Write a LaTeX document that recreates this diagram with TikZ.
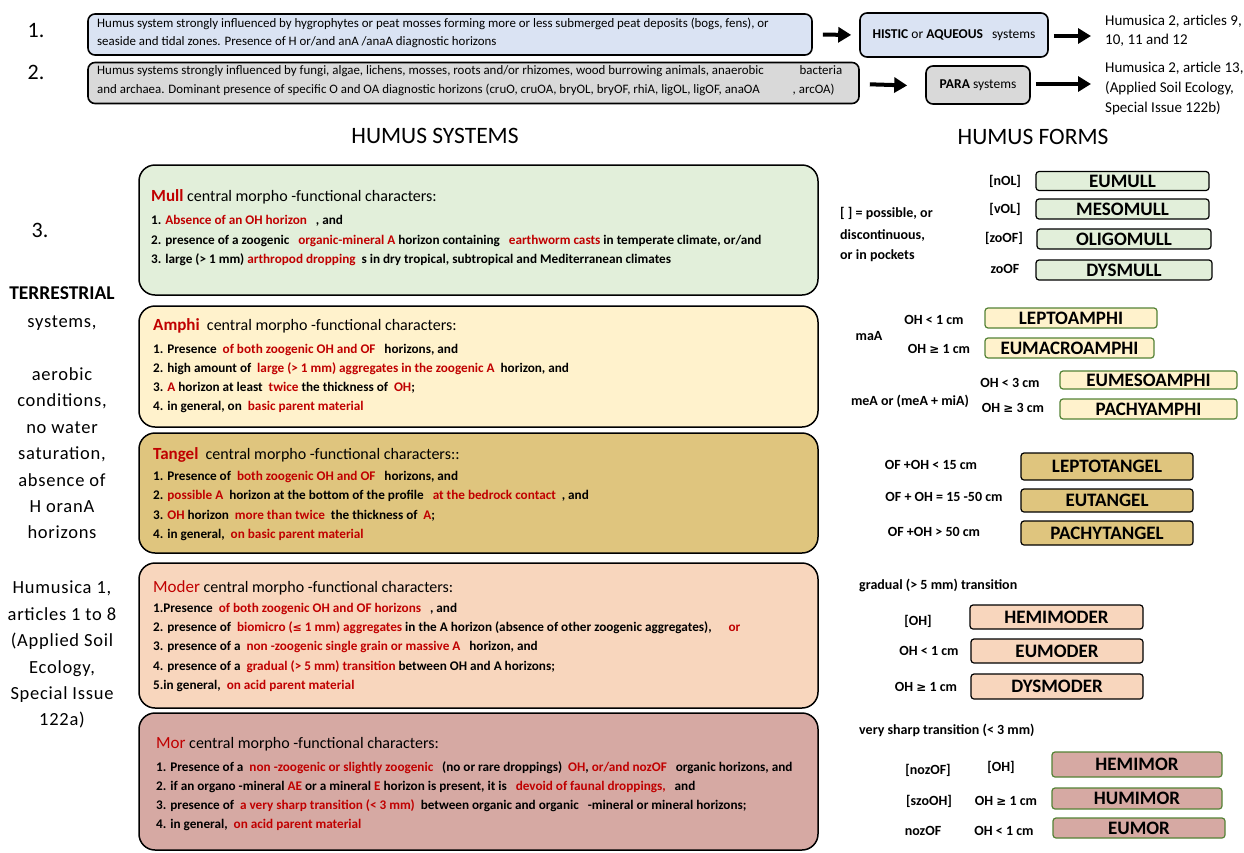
\documentclass[tikz,border=0pt]{standalone}
\usepackage{fontspec}
\setmainfont{Carlito}
\newfontfamily\symfont{DejaVu Sans}
\usetikzlibrary{arrows.meta}
\definecolor{dred}{HTML}{C00000}
\definecolor{fblue}{HTML}{DAE3F3}
\definecolor{fgray}{HTML}{D9D9D9}
\definecolor{fmull}{HTML}{E2EFDA}
\definecolor{famphi}{HTML}{FFF2CC}
\definecolor{ftangel}{HTML}{DFC57E}
\definecolor{fmoder}{HTML}{F8D6BD}
\definecolor{fmor}{HTML}{D6A9A3}
\definecolor{gborder}{HTML}{548235}
\newcommand{\rd}[1]{\textcolor{dred}{#1}}
\newcommand{\fs}[1]{\fontsize{#1}{#1}\selectfont}
\tikzset{
  ln/.style={anchor=west, inner sep=0pt, text height=0.55em, text depth=0pt},
  lc/.style={anchor=center, inner sep=0pt, text height=0.55em, text depth=0pt},
  toptxt/.style={ln, font=\fs{12.9}},
  bodytxt/.style={ln, font=\fs{13.2}\bfseries},
  titletxt/.style={ln, font=\fs{16}},
  lbl/.style={lc, font=\fs{14}\bfseries},
  lbll/.style={ln, font=\fs{14}\bfseries},
  sidetxt/.style={lc, font=\fs{18.5}\addfontfeature{LetterSpace=4}},
  topbox/.style={draw=black, line width=1.6pt, rounded corners=7pt, inner sep=0pt},
  bigbox/.style={draw=black, line width=1.5pt, rounded corners=16pt, inner sep=0pt, minimum width=679pt},
  formbox/.style={draw=black, line width=1.2pt, rounded corners=3pt, inner sep=0pt, font=\fs{19}\bfseries},
  gformbox/.style={formbox, draw=gborder},
  bigarrow/.style={line width=4pt, -{Triangle[length=13pt,width=15pt]}},
}
\begin{document}
\begin{tikzpicture}[x=1pt,y=-1pt]
\useasboundingbox (0,0) rectangle (1244,852);

% ---------- row 1 and 2 ----------
\node[lc, font=\fs{22}] (n1) at (36,35) {1.};
\node[lc, font=\fs{22}] (n2) at (36,77) {2.};

\node[topbox, fill=fblue, minimum width=724pt, minimum height=41pt] (b1) at (450,34.5) {};
\node[toptxt] (b1a) at (97,25) {Humus system strongly influenced by hygrophytes or peat mosses forming more or less submerged peat deposits (bogs, fens), or};
\node[toptxt] (b1b) at (97,43) {seaside and tidal zones. Presence of H or/and anA /anaA diagnostic horizons};

\node[topbox, fill=fgray, minimum width=771pt, minimum height=41pt] (b2) at (473.5,83) {};
\node[toptxt] (b2a) at (97,72) {Humus systems strongly influenced by fungi, algae, lichens, mosses, roots and/or rhizomes, wood burrowing animals, anaerobic \hspace{30pt} bacteria};
\node[toptxt] (b2b) at (97,91) {and archaea. Dominant presence of specific O and OA diagnostic horizons (cruO, cruOA, bryOL, bryOF, rhiA, ligOL, ligOF, anaOA \hspace{30pt}, arcOA)};

\node[topbox, fill=fblue, minimum width=188pt, minimum height=44pt, font=\fs{13.5}] (histic) at (954,35) {\textbf{HISTIC} or \textbf{AQUEOUS}\ \ \ systems};
\node[topbox, fill=fgray, minimum width=104pt, minimum height=38pt, font=\fs{13.5}] (para) at (978,85) {\textbf{PARA} systems};

\node[anchor=west, inner sep=0pt, align=left, font=\fs{15}] (h2a) at (1105,31) {Humusica 2, articles 9,\\[4pt]10, 11 and 12};
\node[anchor=north west, inner sep=0pt, align=left, font=\fs{15}] (h2b) at (1105,62) {Humusica 2, article 13,\\[5pt](Applied Soil Ecology,\\[5pt]Special Issue 122b)};

\draw[bigarrow, shorten <=10pt, shorten >=8pt] (b1.east) -- (histic.west);
\draw[bigarrow, shorten <=5pt, shorten >=14pt] ([yshift=-1pt]histic.east) -- ([yshift=-1pt]histic.east -| h2a.west);
\draw[bigarrow, shorten <=10pt, shorten >=18pt] ([yshift=-1pt]b2.east) -- ([yshift=-1pt]para.west);
\draw[bigarrow, shorten <=5pt, shorten >=14pt] ([yshift=1pt]para.east) -- ([yshift=1pt]para.east -| h2b.west);

% ---------- headings ----------
\node[lc, font=\fs{23.5}] (hs) at (435,141) {HUMUS SYSTEMS};
\node[lc, font=\fs{23.5}] (hf) at (1033,142) {HUMUS FORMS};
\node[lc, font=\fs{22}] (n3) at (40,235) {3.};

% ---------- left column ----------
\node[lc, font=\fs{19.5}\bfseries] (s1) at (62,297) {TERRESTRIAL};
\node[sidetxt] (s2) at (62,325) {systems,};
\node[sidetxt] (s3) at (62,378) {aerobic};
\node[sidetxt] (s4) at (62,404) {conditions,};
\node[sidetxt] (s5) at (62,431) {no water};
\node[sidetxt] (s6) at (62,457) {saturation,};
\node[sidetxt] (s7) at (62,484) {absence of};
\node[sidetxt] (s8) at (62,510) {H oranA};
\node[sidetxt] (s9) at (62,536) {horizons};
\node[sidetxt] (s10) at (62,591) {Humusica 1,};
\node[sidetxt] (s11) at (62,618) {articles 1 to 8};
\node[sidetxt] (s12) at (62,644) {(Applied Soil};
\node[sidetxt] (s13) at (62,671) {Ecology,};
\node[sidetxt] (s14) at (62,697) {Special Issue};
\node[sidetxt] (s15) at (62,723) {122a)};

% ---------- Mull ----------
\node[bigbox, fill=fmull, minimum height=130pt] (mull) at (478.5,230) {};
\node[titletxt] (mt) at (151,199) {\rd{\fs{17}\bfseries Mull} central morpho -functional characters:};
\node[bodytxt] (m1) at (151,222) {1. \rd{Absence of an OH horizon}\ \ \ , and};
\node[bodytxt] (m2) at (151,242) {2. presence of a zoogenic \ \ \rd{organic-mineral A} horizon containing \ \ \rd{earthworm casts} in temperate climate, or/and};
\node[bodytxt] (m3) at (151,261) {3. large (> 1 mm) \rd{arthropod dropping}\ \ s in dry tropical, subtropical and Mediterranean climates};

% ---------- Amphi ----------
\node[bigbox, fill=famphi, minimum height=121pt] (amphi) at (478.5,366.5) {};
\node[titletxt] (at) at (153,328) {\rd{\fs{17}\bfseries Amphi}\ \ central morpho -functional characters:};
\node[bodytxt] (a1) at (153,351) {1. Presence \ \rd{of both zoogenic OH and OF}\ \ \ horizons, and};
\node[bodytxt] (a2) at (153,370) {2. high amount of \ \rd{large (> 1 mm) aggregates in the zoogenic A}\ \ horizon, and};
\node[bodytxt] (a3) at (153,389) {3. \rd{A} horizon at least \ \rd{twice} the thickness of \ \rd{OH};};
\node[bodytxt] (a4) at (153,408) {4. in general, on \ \rd{basic parent material}};

% ---------- Tangel ----------
\node[bigbox, fill=ftangel, minimum height=120pt] (tangel) at (478.5,493) {};
\node[titletxt] (tt) at (153,457) {\rd{\fs{17}\bfseries Tangel}\ \ central morpho -functional characters::};
\node[bodytxt] (t1) at (153,478) {1. Presence of \ \rd{both zoogenic OH and OF}\ \ \ horizons, and};
\node[bodytxt] (t2) at (153,497) {2. \rd{possible A}\ \ horizon at the bottom of the profile \ \ \rd{at the bedrock contact}\ \ , and};
\node[bodytxt] (t3) at (153,517) {3. \rd{OH} horizon \ \rd{more than twice}\ \ the thickness of \ \rd{A};};
\node[bodytxt] (t4) at (153,536) {4. in general, \ \rd{on basic parent material}};

% ---------- Moder ----------
\node[bigbox, fill=fmoder, minimum height=145pt] (moder) at (478.5,635.5) {};
\node[titletxt] (dt) at (153,590) {\rd{\fs{17}Moder} central morpho -functional characters:};
\node[bodytxt] (d1) at (153,610) {1.Presence \ \rd{of both zoogenic OH and OF horizons}\ \ \ , and};
\node[bodytxt] (d2) at (153,629) {2. presence of \ \rd{biomicro ({\symfont\fs{11}≤} 1 mm) aggregates} in the A horizon (absence of other zoogenic aggregates), \hspace{14pt}\rd{or}};
\node[bodytxt] (d3) at (153,648) {3. presence of a \ \rd{non -zoogenic single grain or massive A}\ \ \ horizon, and};
\node[bodytxt] (d4) at (153,668) {4. presence of a \ \rd{gradual (> 5 mm) transition} between OH and A horizons;};
\node[bodytxt] (d5) at (153,687) {5.in general, \ \rd{on acid parent material}};

% ---------- Mor ----------
\node[bigbox, fill=fmor, minimum height=137pt] (mor) at (478.5,781.5) {};
\node[titletxt] (rt) at (156,746) {\rd{\fs{17}Mor} central morpho -functional characters:};
\node[bodytxt] (r1) at (156,769) {1. Presence of a \ \rd{non -zoogenic or slightly zoogenic}\ \ \ (no or rare droppings) \ \rd{OH}, \rd{or/and nozOF}\ \ \ organic horizons, and};
\node[bodytxt] (r2) at (156,788) {2. if an organo -mineral \rd{AE} or a mineral \rd{E} horizon is present, it is \ \ \rd{devoid of faunal droppings,}\ \ \ and};
\node[bodytxt] (r3) at (156,807) {3. presence of \ \rd{a very sharp transition (< 3 mm)}\ \ between organic and organic \ \ -mineral or mineral horizons;};
\node[bodytxt] (r4) at (156,826) {4. in general, \ \rd{on acid parent material}};

% ---------- Humus forms: Mull ----------
\node[lbll] (pa) at (840,215) {[ ] = possible, or};
\node[lbll] (pb) at (840,237) {discontinuous,};
\node[lbll] (pc) at (840,257) {or in pockets};
\node[lbl] (l1) at (1005,183) {[nOL]};
\node[lbl] (l2) at (1005,211) {[vOL]};
\node[lbl] (l3) at (1004,240) {[zoOF]};
\node[lbl] (l4) at (1005,271) {zoOF};
\node[formbox, fill=fmull, minimum width=173pt, minimum height=19pt] (eumull) at (1122.5,181) {EUMULL};
\node[formbox, fill=fmull, minimum width=173pt, minimum height=20pt] (mesomull) at (1122.5,209) {MESOMULL};
\node[formbox, fill=fmull, minimum width=174pt, minimum height=20pt] (oligomull) at (1124,239) {OLIGOMULL};
\node[formbox, fill=fmull, minimum width=176pt, minimum height=20pt] (dysmull) at (1124,270) {DYSMULL};

% ---------- Amphi forms ----------
\node[lbl] (la1) at (934,322) {OH < 1 cm};
\node[lbl] (la0) at (869,338) {maA};
\node[lbl] (la2) at (939,351) {OH {\symfont\fs{12}≥} 1 cm};
\node[lbl] (la3) at (1010,385) {OH < 3 cm};
\node[lbl] (la4) at (910,403) {meA or (meA + miA)};
\node[lbl] (la5) at (1013,410) {OH {\symfont\fs{12}≥} 3 cm};
\node[gformbox, fill=famphi, minimum width=172pt, minimum height=20pt] (leptoamphi) at (1071,318) {LEPTOAMPHI};
\node[gformbox, fill=famphi, minimum width=169pt, minimum height=20pt] (eumacro) at (1069.5,348) {EUMACROAMPHI};
\node[gformbox, fill=famphi, minimum width=177pt, minimum height=18pt] (eumeso) at (1148.5,380) {EUMESOAMPHI};
\node[gformbox, fill=famphi, minimum width=177pt, minimum height=20pt] (pachyamphi) at (1148.5,409) {PACHYAMPHI};

% ---------- Tangel forms ----------
\node[lbl] (lt1) at (931,467) {OF +OH < 15 cm};
\node[lbl] (lt2) at (944,499) {OF + OH = 15 -50 cm};
\node[lbl] (lt3) at (934,534) {OF +OH > 50 cm};
\node[formbox, fill=ftangel, minimum width=172pt, minimum height=27pt] (leptotangel) at (1107,466.5) {LEPTOTANGEL};
\node[formbox, fill=ftangel, minimum width=172pt, minimum height=23pt] (eutangel) at (1107,500.5) {EUTANGEL};
\node[formbox, fill=ftangel, minimum width=172pt, minimum height=24pt] (pachytangel) at (1107,533) {PACHYTANGEL};

% ---------- Moder forms ----------
\node[lbll] (lm0) at (859,587) {gradual (> 5 mm) transition};
\node[lbl] (lm1) at (918,623) {[OH]};
\node[lbl] (lm2) at (929,653) {OH < 1 cm};
\node[lbl] (lm3) at (926,689) {OH {\symfont\fs{12}≥} 1 cm};
\node[formbox, fill=fmoder, minimum width=173pt, minimum height=24pt] (hemimoder) at (1056.5,617) {HEMIMODER};
\node[formbox, fill=fmoder, minimum width=172pt, minimum height=24pt] (eumoder) at (1057,651) {EUMODER};
\node[formbox, fill=fmoder, minimum width=172pt, minimum height=25pt] (dysmoder) at (1057,686.5) {DYSMODER};

% ---------- Mor forms ----------
\node[lbll] (lr0) at (859,732) {very sharp transition (< 3 mm)};
\node[lbl] (lr1) at (928,772) {[nozOF]};
\node[lbl] (lr2) at (1001,769) {[OH]};
\node[lbl] (lr3) at (929,803) {[szoOH]};
\node[lbl] (lr4) at (1006,803) {OH {\symfont\fs{12}≥} 1 cm};
\node[lbl] (lr5) at (923,833) {nozOF};
\node[lbl] (lr6) at (1004,833) {OH < 1 cm};
\node[gformbox, fill=fmor, minimum width=170pt, minimum height=25pt] (hemimor) at (1137,764.5) {HEMIMOR};
\node[gformbox, fill=fmor, minimum width=170pt, minimum height=21pt] (humimor) at (1137,798.5) {HUMIMOR};
\node[gformbox, fill=fmor, minimum width=172pt, minimum height=20pt] (eumor) at (1139,828) {EUMOR};
\end{tikzpicture}
\end{document}
